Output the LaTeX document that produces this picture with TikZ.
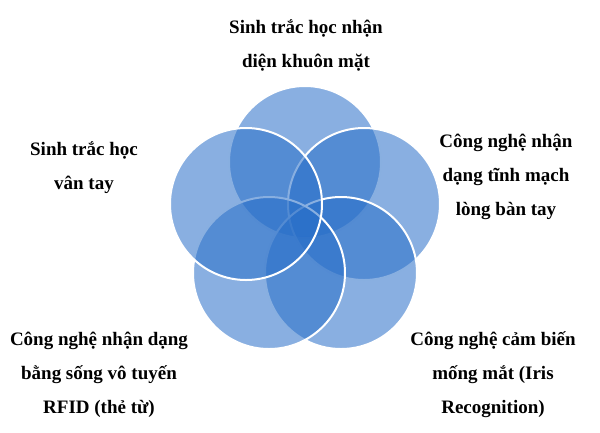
\documentclass[tikz,border=0pt]{standalone}
\usepackage{fontspec}
\setmainfont{Liberation Serif}
\usetikzlibrary{positioning}

\definecolor{petalblue}{RGB}{40,110,200}

\tikzset{
    petal/.style={circle, minimum size=152pt, inner sep=0pt,
                  fill=petalblue, fill opacity=0.55,
                  draw=white, draw opacity=1, line width=2pt},
    caption/.style={align=center, font=\bfseries\fontsize{19}{34}\selectfont,
                    text=black, inner sep=0pt}
}

\begin{document}
\begin{tikzpicture}[x=1pt,y=-1pt]

            %\draw [help lines] (0,0) grid (600,432);
            \useasboundingbox (0,0) rectangle (600,432);

            % circles, clockwise from the top, so the white rims overlap right
            \path   (305,162) node (face)  [petal] {}
                    (364,204) node (palm)  [petal] {}
                    (341,273) node (iris)  [petal] {}
                    (269,273) node (rfid)  [petal] {}
                    (246,204) node (finger)[petal] {};

            % labels
            \path   (306,45)  node (facetext)   [caption] {Sinh trắc học nhận\\diện khuôn mặt}
                    (84,168)  node (fingertext) [caption] {Sinh trắc học\\vân tay}
                    (506,177) node (palmtext)   [caption] {Công nghệ nhận\\dạng tĩnh mạch\\lòng bàn tay}
                    (99,375)  node (rfidtext)   [caption] {Công nghệ nhận dạng\\bằng sống vô tuyến\\RFID (thẻ từ)}
                    (493,375) node (iristext)   [caption] {Công nghệ cảm biến\\mống mắt (Iris\\Recognition)};

\end{tikzpicture}
\end{document}
